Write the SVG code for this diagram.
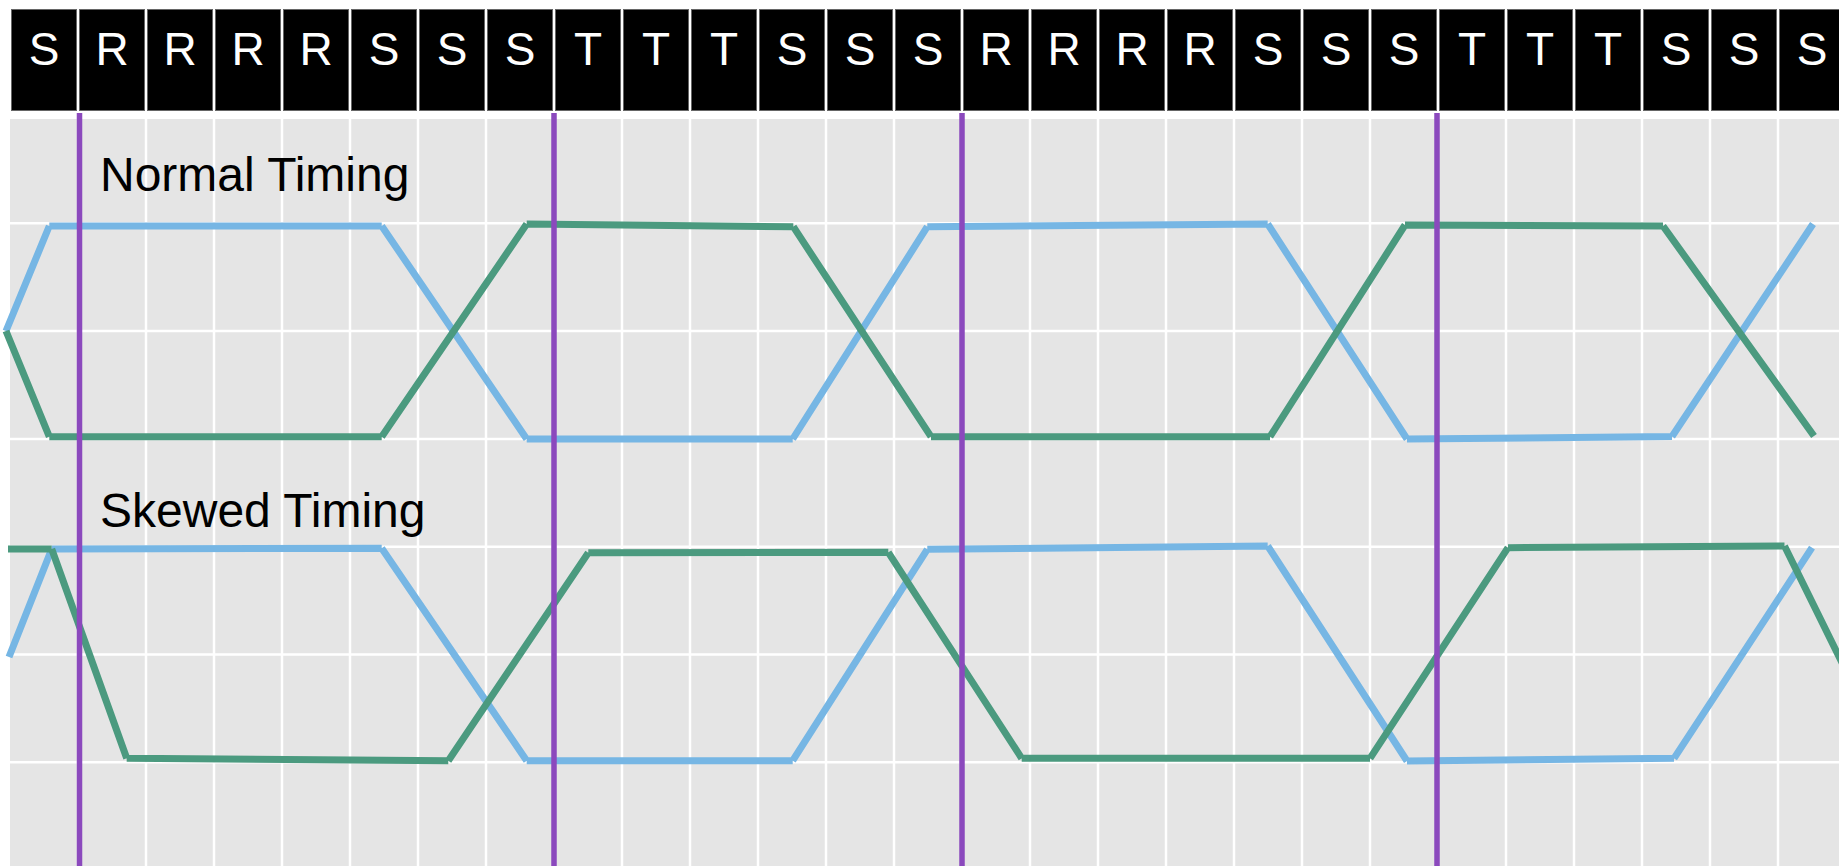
<svg xmlns="http://www.w3.org/2000/svg" width="1839" height="866" viewBox="0 0 1839 866">
<style>
.cell{fill:#000;stroke:#666;stroke-width:1}
.hdr{font-family:"Liberation Sans",Arial,sans-serif;font-size:46px;fill:#fff;text-anchor:middle}
.lbl{font-family:"Liberation Sans",Arial,sans-serif;font-size:48px;fill:#000}
.grid{stroke:#fff;stroke-width:2.5;fill:none}
.blue{stroke:#76b6e4;stroke-width:7;fill:none;stroke-linecap:butt}
.green{stroke:#4b9a7f;stroke-width:7;fill:none;stroke-linecap:butt}
.mark{stroke:#8b49bd;stroke-width:5.5}
</style>
<rect width="1839" height="866" fill="#fff"/>
<g id="header">
<rect class="cell" x="11.5" y="9.5" width="65" height="101"/><text class="hdr" x="44" y="65">S</text>
<rect class="cell" x="79.5" y="9.5" width="65" height="101"/><text class="hdr" x="112" y="65">R</text>
<rect class="cell" x="147.5" y="9.5" width="65" height="101"/><text class="hdr" x="180" y="65">R</text>
<rect class="cell" x="215.5" y="9.5" width="65" height="101"/><text class="hdr" x="248" y="65">R</text>
<rect class="cell" x="283.5" y="9.5" width="65" height="101"/><text class="hdr" x="316" y="65">R</text>
<rect class="cell" x="351.5" y="9.5" width="65" height="101"/><text class="hdr" x="384" y="65">S</text>
<rect class="cell" x="419.5" y="9.5" width="65" height="101"/><text class="hdr" x="452" y="65">S</text>
<rect class="cell" x="487.5" y="9.5" width="65" height="101"/><text class="hdr" x="520" y="65">S</text>
<rect class="cell" x="555.5" y="9.5" width="65" height="101"/><text class="hdr" x="588" y="65">T</text>
<rect class="cell" x="623.5" y="9.5" width="65" height="101"/><text class="hdr" x="656" y="65">T</text>
<rect class="cell" x="691.5" y="9.5" width="65" height="101"/><text class="hdr" x="724" y="65">T</text>
<rect class="cell" x="759.5" y="9.5" width="65" height="101"/><text class="hdr" x="792" y="65">S</text>
<rect class="cell" x="827.5" y="9.5" width="65" height="101"/><text class="hdr" x="860" y="65">S</text>
<rect class="cell" x="895.5" y="9.5" width="65" height="101"/><text class="hdr" x="928" y="65">S</text>
<rect class="cell" x="963.5" y="9.5" width="65" height="101"/><text class="hdr" x="996" y="65">R</text>
<rect class="cell" x="1031.5" y="9.5" width="65" height="101"/><text class="hdr" x="1064" y="65">R</text>
<rect class="cell" x="1099.5" y="9.5" width="65" height="101"/><text class="hdr" x="1132" y="65">R</text>
<rect class="cell" x="1167.5" y="9.5" width="65" height="101"/><text class="hdr" x="1200" y="65">R</text>
<rect class="cell" x="1235.5" y="9.5" width="65" height="101"/><text class="hdr" x="1268" y="65">S</text>
<rect class="cell" x="1303.5" y="9.5" width="65" height="101"/><text class="hdr" x="1336" y="65">S</text>
<rect class="cell" x="1371.5" y="9.5" width="65" height="101"/><text class="hdr" x="1404" y="65">S</text>
<rect class="cell" x="1439.5" y="9.5" width="65" height="101"/><text class="hdr" x="1472" y="65">T</text>
<rect class="cell" x="1507.5" y="9.5" width="65" height="101"/><text class="hdr" x="1540" y="65">T</text>
<rect class="cell" x="1575.5" y="9.5" width="65" height="101"/><text class="hdr" x="1608" y="65">T</text>
<rect class="cell" x="1643.5" y="9.5" width="65" height="101"/><text class="hdr" x="1676" y="65">S</text>
<rect class="cell" x="1711.5" y="9.5" width="65" height="101"/><text class="hdr" x="1744" y="65">S</text>
<rect class="cell" x="1779.5" y="9.5" width="65" height="101"/><text class="hdr" x="1812" y="65">S</text>
</g>
<g id="panel">
<rect x="10" y="119" width="1829" height="747" fill="#e5e5e5"/>
<path class="grid" d="M78 119V866M146 119V866M214 119V866M282 119V866M350 119V866M418 119V866M486 119V866M554 119V866M622 119V866M690 119V866M758 119V866M826 119V866M894 119V866M962 119V866M1030 119V866M1098 119V866M1166 119V866M1234 119V866M1302 119V866M1370 119V866M1438 119V866M1506 119V866M1574 119V866M1642 119V866M1710 119V866M1778 119V866"/>
<path class="grid" d="M10 223.3H1839M10 331.1H1839M10 438.9H1839M10 546.7H1839M10 654.5H1839M10 762.3H1839"/>
</g>
<g id="labels">
<text class="lbl" x="100" y="191">Normal Timing</text>
<text class="lbl" x="100" y="527">Skewed Timing</text>
</g>
<g id="connectors">
<path id="normal-blue" class="blue" d="M6 331L49.3 226M49.3 226L381.7 226M381.7 226L526.7 439M526.7 439L792.7 439M792.7 439L927.3 226.7M927.3 226.7L1267.7 224M1267.7 224L1407 439M1407 439L1672 436.5M1672 436.5L1813 224"/>
<path id="normal-green" class="green" d="M6 331L49.3 436.7M49.3 436.7L381.7 436.7M381.7 436.7L526.7 224M526.7 224L793.3 226.7M793.3 226.7L931 436.7M931 436.7L1270 436.7M1270 436.7L1405 225M1405 225L1663 226M1663 226L1814 436"/>
<path id="skewed-blue" class="blue" d="M9 657L51.7 549M51.7 549L381.7 548.3M381.7 548.3L526.7 760.7M526.7 760.7L792.7 760.7M792.7 760.7L927.3 549.3M927.3 549.3L1267.7 546M1267.7 546L1407 761M1407 761L1674 758.3M1674 758.3L1812 547.7"/>
<path id="skewed-green" class="green" d="M8 549L51.7 549M51.7 549L126.7 758.3M126.7 758.3L448.3 760.7M448.3 760.7L588.3 552.7M588.3 552.7L888.3 552.3M888.3 552.3L1021.7 758.3M1021.7 758.3L1370 758.3M1370 758.3L1508 547.7M1508 547.7L1784.5 546M1784.5 546L1850 679"/>
<path id="markers" class="mark" d="M79.5 113V866M554 113V866M962 113V866M1437 113V866"/>
</g>
</svg>
